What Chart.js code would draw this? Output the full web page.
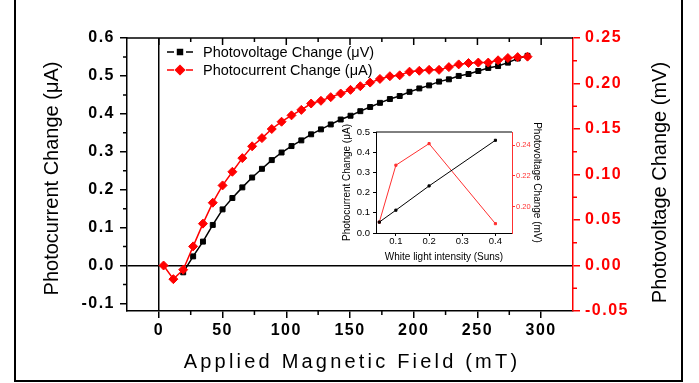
<!DOCTYPE html>
<html>
<head>
<meta charset="utf-8">
<script src="https://cdn.jsdelivr.net/npm/chart.js@4.4.1/dist/chart.umd.min.js"></script>
<style>
  html, body { margin: 0; padding: 0; background: #fff; }
  #wrap { position: relative; width: 699px; height: 383px; }
  #mainChart { position: absolute; left: 0; top: 0; }
  #insetChart { position: absolute; left: 330px; top: 122px; }
</style>
</head>
<body>
<div id="wrap">
  <canvas id="mainChart" width="699" height="383"></canvas>
  <canvas id="insetChart" width="235" height="145"></canvas>
</div>
<script>
// main plot: applied field (mT)
var field = [3.7, 11.4, 19.1, 26.9, 34.6, 42.3, 50.0, 57.7, 65.5, 73.2, 80.9, 88.6, 96.3, 104.1, 111.8, 119.5, 127.2, 134.9, 142.7, 150.4, 158.1, 165.8, 173.5, 181.3, 189.0, 196.7, 204.4, 212.1, 219.9, 227.6, 235.3, 243.0, 250.7, 258.5, 266.2, 273.9, 281.6, 289.3];
// black squares, read on the left axis
var photovoltage = [null, null, -0.018, 0.024, 0.063, 0.107, 0.148, 0.178, 0.206, 0.232, 0.255, 0.278, 0.298, 0.315, 0.330, 0.346, 0.359, 0.372, 0.385, 0.395, 0.407, 0.418, 0.429, 0.439, 0.447, 0.458, 0.467, 0.475, 0.485, 0.491, 0.500, 0.505, 0.513, 0.521, 0.526, 0.535, 0.546, 0.553];
// red diamonds, read on the right (red) axis
var photocurrent = [0.000, -0.015, -0.0046, 0.021, 0.046, 0.069, 0.088, 0.103, 0.118, 0.131, 0.140, 0.150, 0.158, 0.165, 0.171, 0.178, 0.181, 0.185, 0.189, 0.193, 0.197, 0.201, 0.205, 0.208, 0.209, 0.213, 0.214, 0.215, 0.215, 0.218, 0.221, 0.2225, 0.223, 0.223, 0.2255, 0.228, 0.229, 0.2295];

var xTicks = [0, 50, 100, 150, 200, 250, 300];
var xMinor = [25, 75, 125, 175, 225, 275];
var yTicks = [-0.1, 0, 0.1, 0.2, 0.3, 0.4, 0.5, 0.6];
var yMinor = [-0.05, 0.05, 0.15, 0.25, 0.35, 0.45, 0.55];
var y1Ticks = [-0.05, 0, 0.05, 0.1, 0.15, 0.2, 0.25];
var y1Minor = [-0.025, 0.025, 0.075, 0.125, 0.175, 0.225];

// inset
var insetIntensity = [0.05, 0.1, 0.2, 0.4];
var insetCurrent = [0.054, 0.113, 0.233, 0.459];
var insetVoltage = [0.1898, 0.227, 0.2411, 0.1888];
var insetXTicks = [0.1, 0.2, 0.3, 0.4];
var insetYTicks = [0, 0.1, 0.2, 0.3, 0.4, 0.5];
var insetY1Ticks = [0.20, 0.22, 0.24];

var fam = '"Liberation Sans", Arial, sans-serif';
var red = '#ff0000';
var insetRed = '#ff3030';

function pts(xs, ys) {
    return xs.map(function (x, i) { return { x: x, y: ys[i] }; });
}
function fixTicks(list) {
    return function (s) { s.ticks = list.map(function (v) { return { value: v }; }); };
}

var mainExtras = {
    id: 'mainExtras',
    beforeDraw: function (chart) {
        chart.ctx.letterSpacing = '1.5px';
    },
    beforeDatasetsDraw: function (chart) {
        var ctx = chart.ctx, a = chart.chartArea;
        var x = chart.scales.x, y = chart.scales.y, y1 = chart.scales.y1;
        ctx.save();
        ctx.lineWidth = 1.5;
        ctx.strokeStyle = '#000';
        ctx.beginPath();
        ctx.moveTo(a.left, a.top);
        ctx.lineTo(a.right, a.top);
        xTicks.forEach(function (v) {
            var px = x.getPixelForValue(v);
            ctx.moveTo(px, a.top); ctx.lineTo(px, a.top + 7);
        });
        xMinor.forEach(function (v) {
            var px = x.getPixelForValue(v);
            ctx.moveTo(px, a.top); ctx.lineTo(px, a.top + 4);
            ctx.moveTo(px, a.bottom); ctx.lineTo(px, a.bottom + 4);
        });
        yMinor.forEach(function (v) {
            var py = y.getPixelForValue(v);
            ctx.moveTo(a.left - 4, py); ctx.lineTo(a.left, py);
        });
        ctx.stroke();
        ctx.strokeStyle = red;
        ctx.beginPath();
        y1Minor.forEach(function (v) {
            var py = y1.getPixelForValue(v);
            ctx.moveTo(a.right, py); ctx.lineTo(a.right + 4, py);
        });
        ctx.stroke();
        ctx.restore();
    },
    afterDraw: function (chart) {
        var ctx = chart.ctx, a = chart.chartArea;
        var midY = (a.top + a.bottom) / 2;
        ctx.save();
        ctx.letterSpacing = '0px';
        ctx.fillStyle = '#000';
        ctx.textAlign = 'center';
        ctx.textBaseline = 'middle';
        ctx.font = '20px ' + fam;

        ctx.save();
        ctx.translate(52, midY + 4);
        ctx.rotate(-Math.PI / 2);
        ctx.fillText('Photocurrent Change (\u03bcA)', 0, 0);
        ctx.restore();

        ctx.save();
        ctx.translate(660, midY + 8);
        ctx.rotate(-Math.PI / 2);
        ctx.fillText('Photovoltage Change (mV)', 0, 0);
        ctx.restore();

        ctx.letterSpacing = '3.2px';
        ctx.fillText('Applied Magnetic Field (mT)', (a.left + a.right) / 2 + 2, 362);
        ctx.letterSpacing = '0px';

        // legend
        ctx.font = '14.5px ' + fam;
        ctx.textAlign = 'left';
        chart.data.datasets.forEach(function (ds, i) {
            var ly = 52 + i * 18;
            ctx.strokeStyle = ds.borderColor;
            ctx.fillStyle = ds.backgroundColor;
            ctx.lineWidth = 1.5;
            ctx.beginPath();
            ctx.moveTo(167, ly); ctx.lineTo(174, ly);
            ctx.moveTo(186, ly); ctx.lineTo(193, ly);
            ctx.stroke();
            Chart.helpers.drawPoint(ctx, { pointStyle: ds.pointStyle, radius: ds.pointRadius, rotation: 0, borderWidth: 1 }, 180, ly);
            ctx.fillStyle = '#000';
            ctx.fillText(ds.label, 203, ly + 1);
        });

        // outer frame
        ctx.strokeStyle = '#000';
        ctx.lineWidth = 2;
        ctx.beginPath();
        ctx.moveTo(15, 0); ctx.lineTo(15, 381);
        ctx.lineTo(682, 381); ctx.lineTo(682, 0);
        ctx.stroke();
        ctx.restore();
    }
};

function zeroLine(c) {
    return c.tick && c.tick.value === 0 ? '#000' : 'rgba(0,0,0,0)';
}

new Chart(document.getElementById('mainChart'), {
    type: 'line',
    data: {
        datasets: [{
            label: 'Photovoltage Change (\u03bcV)',
            data: pts(field, photovoltage),
            yAxisID: 'y',
            borderColor: '#000',
            backgroundColor: '#000',
            borderWidth: 1.5,
            pointStyle: 'rect',
            pointRadius: 3.5,
            pointBorderWidth: 1,
            order: 1
        }, {
            label: 'Photocurrent Change (\u03bcA)',
            data: pts(field, photocurrent),
            yAxisID: 'y1',
            borderColor: red,
            backgroundColor: red,
            borderWidth: 1.5,
            pointStyle: 'rectRot',
            pointRadius: 4.5,
            pointBorderWidth: 1,
            order: 0
        }]
    },
    options: {
        responsive: false,
        animation: false,
        layout: { padding: { top: 38 } },
        plugins: { legend: { display: false }, tooltip: { enabled: false } },
        scales: {
            x: {
                type: 'linear',
                min: -25,
                max: 325,
                afterBuildTicks: fixTicks(xTicks),
                afterFit: function (s) { s.height = 72; },
                ticks: {
                    autoSkip: false, maxRotation: 0, padding: 3, color: '#000',
                    font: { family: fam, size: 16, weight: 'bold' },
                    callback: function (v) { return String(v); }
                },
                grid: { drawOnChartArea: true, color: zeroLine, tickColor: '#000', lineWidth: 1.5, tickLength: 7 },
                border: { color: '#000', width: 1.5 }
            },
            y: {
                position: 'left',
                min: -0.12,
                max: 0.6,
                afterBuildTicks: fixTicks(yTicks),
                afterFit: function (s) { s.width = 127; },
                ticks: {
                    autoSkip: false, padding: 5, color: '#000',
                    font: { family: fam, size: 16, weight: 'bold' },
                    callback: function (v) { return v.toFixed(1); }
                },
                grid: { drawOnChartArea: true, color: zeroLine, tickColor: '#000', lineWidth: 1.5, tickLength: 7 },
                border: { color: '#000', width: 1.5 }
            },
            y1: {
                position: 'right',
                min: -0.05,
                max: 0.25,
                afterBuildTicks: fixTicks(y1Ticks),
                afterFit: function (s) { s.width = 126; },
                ticks: {
                    autoSkip: false, padding: 5, color: red,
                    font: { family: fam, size: 16, weight: 'bold' },
                    callback: function (v) { return v.toFixed(2); }
                },
                grid: { drawOnChartArea: false, color: red, lineWidth: 1.5, tickLength: 7 },
                border: { color: red, width: 1.5 }
            }
        }
    },
    plugins: [mainExtras]
});

var insetFrame = {
    id: 'insetFrame',
    beforeDatasetsDraw: function (chart) {
        var ctx = chart.ctx, a = chart.chartArea;
        ctx.save();
        ctx.strokeStyle = '#000';
        ctx.lineWidth = 1;
        ctx.beginPath();
        ctx.moveTo(a.left, a.top);
        ctx.lineTo(a.right, a.top);
        ctx.stroke();
        ctx.restore();
    }
};

var insetFont = { family: fam, size: 10 };

new Chart(document.getElementById('insetChart'), {
    type: 'line',
    data: {
        datasets: [{
            label: 'Photocurrent',
            data: pts(insetIntensity, insetCurrent),
            yAxisID: 'y',
            borderColor: '#000',
            backgroundColor: '#000',
            borderWidth: 1,
            pointStyle: 'rect',
            pointRadius: 1.5
        }, {
            label: 'Photovoltage',
            data: pts(insetIntensity, insetVoltage),
            yAxisID: 'y1',
            borderColor: insetRed,
            backgroundColor: insetRed,
            borderWidth: 1,
            pointStyle: 'rect',
            pointRadius: 1.5
        }]
    },
    options: {
        responsive: false,
        animation: false,
        layout: { padding: { top: 10 } },
        plugins: { legend: { display: false }, tooltip: { enabled: false } },
        scales: {
            x: {
                type: 'linear',
                min: 0.04,
                max: 0.45,
                afterBuildTicks: fixTicks(insetXTicks),
                afterFit: function (s) { s.height = 34; },
                ticks: {
                    autoSkip: false, maxRotation: 0, padding: 0, color: '#000', font: { family: fam, size: 9.5 },
                    callback: function (v) { return v.toFixed(1); }
                },
                grid: { drawOnChartArea: false, color: '#000', tickLength: 3 },
                border: { color: '#000', width: 1 },
                title: { display: true, text: 'White light intensity (Suns)', color: '#000', font: insetFont, padding: { top: 0, bottom: 4 } }
            },
            y: {
                position: 'left',
                min: 0,
                max: 0.5,
                afterBuildTicks: fixTicks(insetYTicks),
                afterFit: function (s) { s.width = 46; },
                ticks: {
                    autoSkip: false, padding: 3, color: '#000', font: { family: fam, size: 9.5 },
                    callback: function (v) { return v.toFixed(1); }
                },
                grid: { drawOnChartArea: false, color: '#000', tickLength: 3 },
                border: { color: '#000', width: 1 },
                title: { display: true, text: 'Photocurrent Change (\u03bcA)', color: '#000', font: insetFont, padding: { top: 11, bottom: 0 } }
            },
            y1: {
                position: 'right',
                min: 0.1827,
                max: 0.2487,
                afterBuildTicks: fixTicks(insetY1Ticks),
                afterFit: function (s) { s.width = 53; },
                ticks: {
                    autoSkip: false, padding: 1, color: insetRed, font: { family: fam, size: 7.5 },
                    callback: function (v) { return v.toFixed(2); }
                },
                grid: { drawOnChartArea: false, color: insetRed, tickLength: 3 },
                border: { color: insetRed, width: 1 },
                title: { display: true, text: 'Photovoltage Change (mV)', color: '#000', font: insetFont, padding: { top: 22, bottom: 0 } }
            }
        }
    },
    plugins: [insetFrame]
});
</script>
</body>
</html>
